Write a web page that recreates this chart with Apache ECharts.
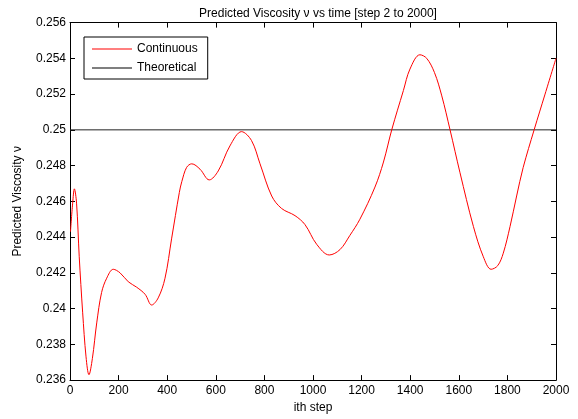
<!DOCTYPE html>
<html><head><meta charset="utf-8">
<script src="https://cdn.jsdelivr.net/npm/echarts@6/dist/echarts.min.js"></script>
<style>html,body{margin:0;padding:0;background:#fff}#c{width:578px;height:419px}</style>
</head><body><div id="c"></div>
<script>
var steps = [2,11,18,27,38,52,66,78,92,110,130,151,178,206,240,274,309,336,363,391,418,450,460,480,501,535,573,610,658,706,747,782,830,871,926,967,1015,1067,1111,1152,1193,1255,1290,1324,1372,1399,1440,1468,1500,1530,1564,1605,1660,1701,1733,1760,1783,1811,1838,1865,1910,1955,2000];
var viscosity = [0.2443,0.2459,0.2467,0.2459,0.2429,0.2398,0.2373,0.2363,0.2372,0.2392,0.2409,0.2417,0.2422,0.2420,0.2415,0.2412,0.2408,0.2402,0.2406,0.2417,0.2439,0.2465,0.2471,0.2479,0.2481,0.2478,0.2472,0.2477,0.2491,0.2499,0.2494,0.2481,0.2463,0.2456,0.2452,0.2447,0.2436,0.2430,0.2433,0.2441,0.2450,0.2468,0.2482,0.2500,0.2522,0.2534,0.2542,0.2540,0.2532,0.2519,0.2500,0.2476,0.2446,0.2429,0.2422,0.2424,0.2431,0.2446,0.2463,0.2479,0.2500,0.2520,0.2540];
var theoretical = 0.25;
var titleText = 'Predicted Viscosity \u03bd vs time [step 2 to 2000]';
var yName = 'Predicted Viscosity \u03bd';
var xName = 'ith step';

var font = 'Arial, "Liberation Sans", sans-serif';
var contData = steps.map(function(s,i){return [s, viscosity[i]];});
var theoData = [[0, theoretical],[2000, theoretical]];
var chart = echarts.init(document.getElementById('c'));
function boxAxis(o){
  o.axisLine={show:true,onZero:false,lineStyle:{color:'#000',width:1}};
  o.axisTick={show:true,inside:true,length:5,lineStyle:{color:'#000'}};
  o.splitLine={show:false};
  return o;
}
chart.setOption({
  animation:false,
  backgroundColor:'#fff',
  title:{text:titleText,left:313,top:3,textAlign:'center',textStyle:{fontSize:12,fontWeight:'normal',color:'#000',fontFamily:font}},
  grid:{left:70,right:22,top:22.6,bottom:38.4,containLabel:false},
  legend:{orient:'vertical',left:84,top:37,borderColor:'#000',borderWidth:1,padding:[5,10,4,8],itemGap:5,itemWidth:40,itemHeight:1,
    backgroundColor:'#fff',icon:'rect',
    textStyle:{fontSize:12,color:'#000',fontFamily:font,lineHeight:14},
    data:['Continuous','Theoretical']},
  xAxis:[
    boxAxis({type:'value',min:0,max:2000,interval:200,position:'bottom',name:xName,nameLocation:'middle',nameGap:21,
      nameTextStyle:{fontSize:12,color:'#000',fontFamily:font},
      axisLabel:{fontSize:12,color:'#000',fontFamily:font,margin:5,formatter:function(v){return String(v);}}}),
    boxAxis({type:'value',min:0,max:2000,interval:200,position:'top',axisLabel:{show:false}})
  ],
  yAxis:[
    boxAxis({type:'value',min:0.236,max:0.256,interval:0.002,position:'left',name:yName,nameLocation:'middle',nameGap:46,
      nameTextStyle:{fontSize:12,color:'#000',fontFamily:font},
      axisLabel:{fontSize:12,color:'#000',fontFamily:font,margin:4,formatter:function(v){return String(parseFloat(v.toFixed(3)));}}}),
    boxAxis({type:'value',min:0.236,max:0.256,interval:0.002,position:'right',axisLabel:{show:false}})
  ],
  series:[
    {name:'Continuous',type:'line',data:contData,smooth:0.35,showSymbol:false,symbol:'none',lineStyle:{color:'#ff0000',width:1},itemStyle:{color:'#ff0000'},z:3},
    {name:'Theoretical',type:'line',data:theoData,showSymbol:false,symbol:'none',lineStyle:{color:'#222',width:1},itemStyle:{color:'#000'},z:2}
  ]
});
</script></body></html>
